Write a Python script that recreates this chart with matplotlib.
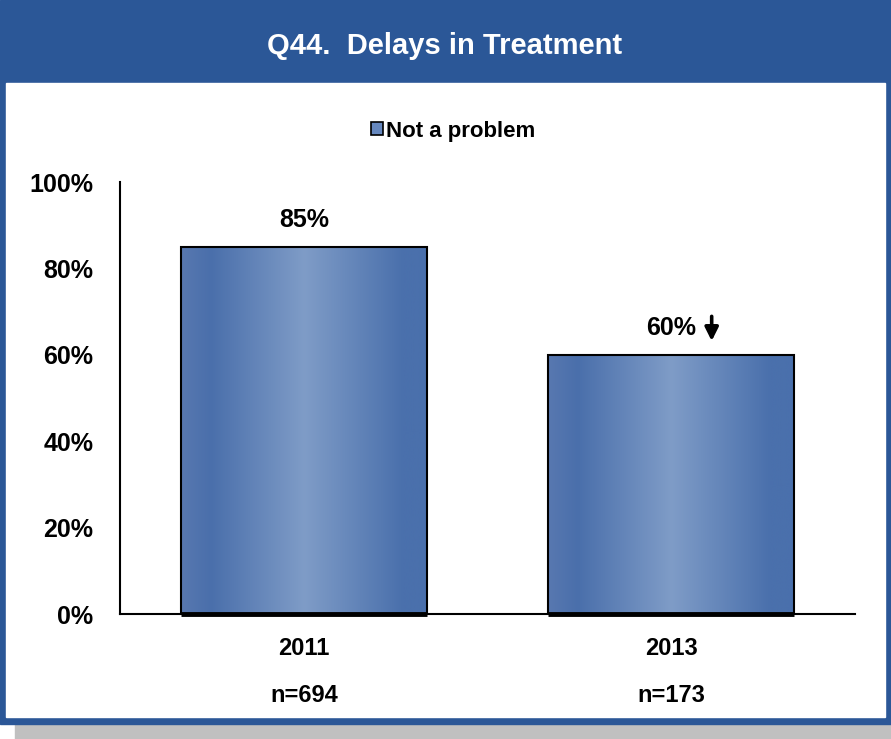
import numpy as np
import matplotlib.pyplot as plt
from matplotlib.colors import LinearSegmentedColormap
from matplotlib.patches import Rectangle, Patch

# data
years = ['2011', '2013']
sample_sizes = ['n=694', 'n=173']
not_a_problem = [85, 60]
significant_drop = [False, True]
y_ticks = [0, 20, 40, 60, 80, 100]

plt.rcParams['font.family'] = ['Liberation Sans', 'DejaVu Sans']
plt.rcParams['font.weight'] = 'bold'

W, H = 891, 739
frame_blue = '#2b5797'
fig = plt.figure(figsize=(W / 100, H / 100), dpi=100)


def box(x, y, w, h, color):
    # rectangle given in pixels from the top-left corner
    fig.patches.append(Rectangle((x / W, 1 - (y + h) / H), w / W, h / H,
                                 transform=fig.transFigure, color=color, zorder=-10))


box(15, 724, 876, 15, '#c0c0c0')
box(0, 0, 891, 724, frame_blue)
box(6, 83, 879, 634, 'white')
fig.text(445 / W, 1 - 46 / H, 'Q44.  Delays in Treatment', color='white',
         fontsize=21, fontweight='bold', ha='center', va='center')

ax = fig.add_axes([120 / W, 1 - 614 / H, (855 - 120) / W, (614 - 182) / H])
ax.set_facecolor('none')

grad_cmap = LinearSegmentedColormap.from_list(
    'bar', [(0, '#5878b0'), (0.12, '#4a6fab'), (0.5, '#7f9cc7'),
            (0.9, '#4a70ac'), (1, '#4a70ac')])
grad = np.linspace(0, 1, 256).reshape(1, -1)

x = np.arange(len(years))
width = 0.67
bars = ax.bar(x, not_a_problem, width=width, facecolor='none',
              edgecolor='black', linewidth=1.5, zorder=3)
for bar in bars:
    x0 = bar.get_x()
    img = ax.imshow(grad, extent=[x0, x0 + bar.get_width(), 0, bar.get_height()],
                    aspect='auto', cmap=grad_cmap, zorder=2)
    img.set_clip_path(bar)
    ax.plot([x0, x0 + bar.get_width()], [0, 0], color='black', lw=3.5,
            solid_capstyle='butt', zorder=4, clip_on=False)

for i, v in enumerate(not_a_problem):
    ax.text(i, v + 6.2, f'{v}%', ha='center', va='center', fontsize=18,
            fontweight='bold')
    if significant_drop[i]:
        ax.annotate('', xy=(i + 0.11, v + 3.2), xytext=(i + 0.11, v + 8.9),
                    arrowprops=dict(arrowstyle='-|>', color='black', lw=2.6,
                                    mutation_scale=20, shrinkA=0, shrinkB=0))
    ax.annotate(years[i], xy=(i, 0), xycoords=('data', 'axes fraction'),
                xytext=(0, -25), textcoords='offset points', ha='center',
                va='center', fontsize=17, fontweight='bold')
    ax.annotate(sample_sizes[i], xy=(i, 0), xycoords=('data', 'axes fraction'),
                xytext=(0, -58.5), textcoords='offset points', ha='center',
                va='center', fontsize=17, fontweight='bold')

ax.set_xlim(-0.5, 1.5)
ax.set_ylim(0, 100)
ax.set_yticks(y_ticks)
ax.set_yticklabels([f'{t}%' for t in y_ticks], fontsize=18, fontweight='bold')
ax.set_xticks([])
ax.tick_params(axis='y', length=0, pad=19)
for side in ['top', 'right']:
    ax.spines[side].set_visible(False)
for side in ['left', 'bottom']:
    ax.spines[side].set_linewidth(1.5)

handle = Patch(facecolor='#6688bf', edgecolor='black', linewidth=1.2)
fig.legend([handle], ['Not a problem'], loc='center',
           bbox_to_anchor=(453 / W, 1 - 131 / H), frameon=False,
           prop={'size': 16, 'weight': 'bold'}, handlelength=0.55,
           handleheight=0.55, handletextpad=0.15)

fig.savefig('out.png', dpi=100)
